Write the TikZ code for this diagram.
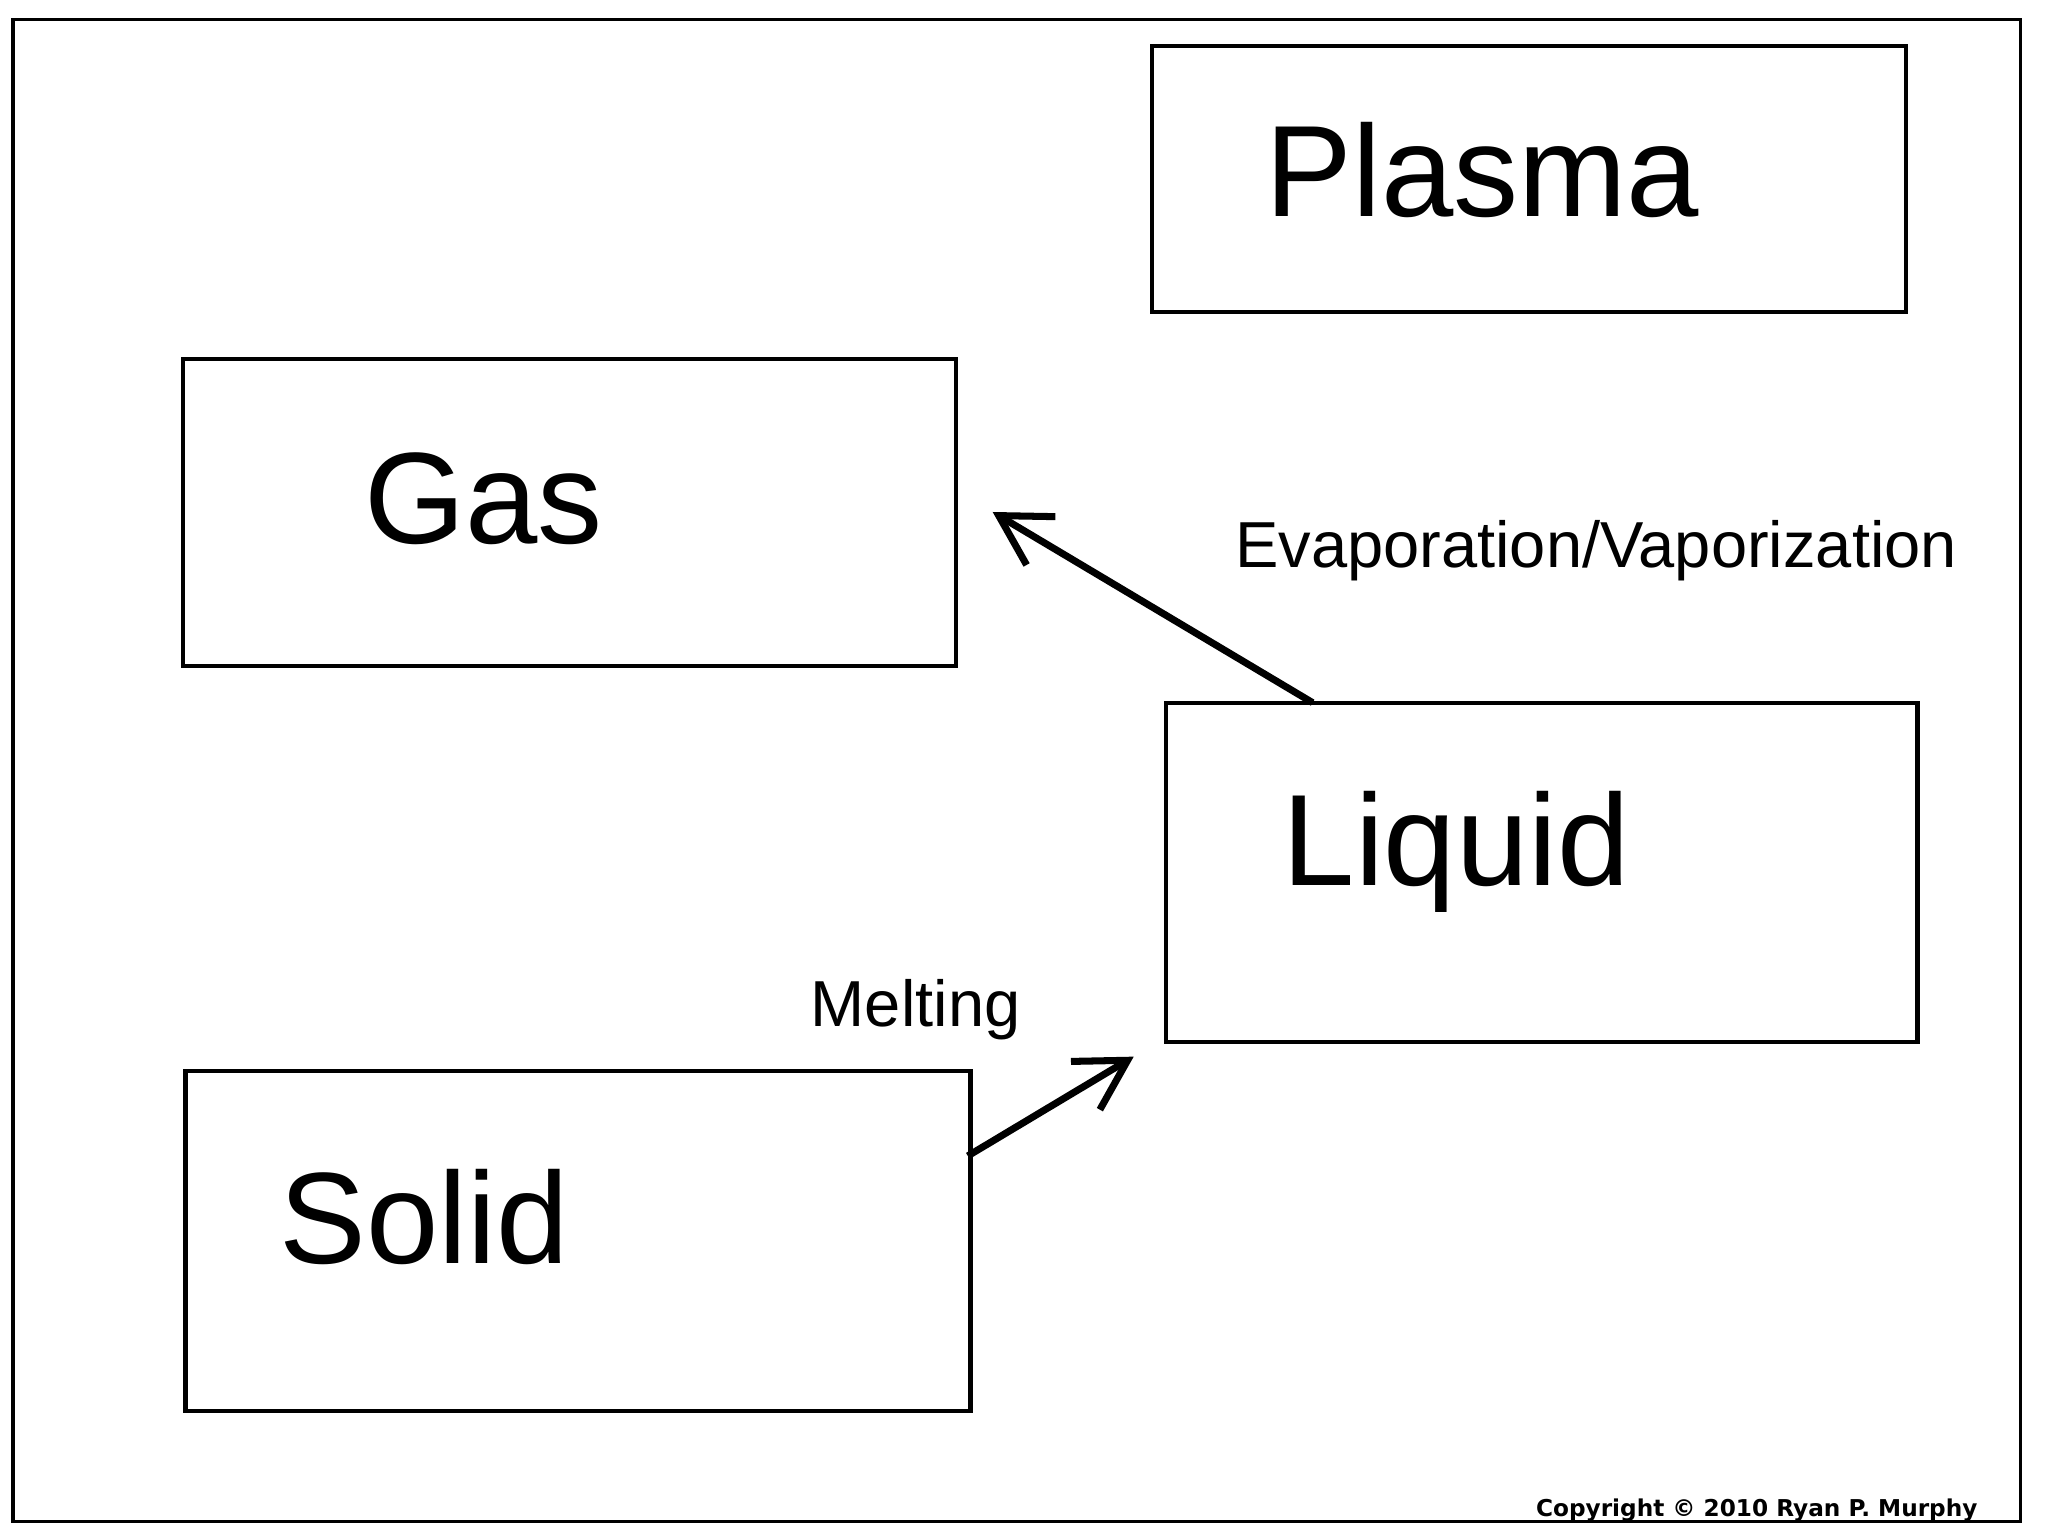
\documentclass[tikz,border=0pt]{standalone}
\usepackage{fontspec}
\setmainfont{Liberation Sans}
\newfontfamily\cpy{DejaVu Sans}
\usetikzlibrary{arrows.meta}
\begin{document}
\begin{tikzpicture}[x=0.013061cm,y=-0.013061cm,
  box/.style={draw,line width=1.2pt},
  big/.style={font=\fontsize{37}{37}\selectfont},
  lab/.style={font=\fontsize{18.5}{18.5}\selectfont},
  arr/.style={line width=2pt,-{Straight Barb[length=14pt,width=16pt,line width=2pt]}}]
\useasboundingbox (0,0) rectangle (1568,1176);
\draw[line width=1pt] (10,15) rectangle (1547,1165);
\draw[box] (882,35) rectangle (1459,239);
\draw[box] (140,275) rectangle (732,510);
\draw[box] (893,538) rectangle (1468,798);
\draw[box] (142,820) rectangle (743,1080);
\node[big] (plasma) at (1135,130) {Plasma};
\node[big] (gas) at (370,382) {Gas};
\node[big] (liquid) at (1115,652) {Liquid};
\node[big] (solid) at (325,932) {Solid};
\node[lab] (evap) at (1222,422) {Evaporation/Vaporization};
\node[lab] (melt) at (701,773) {Melting};
\node[font=\cpy\bfseries\fontsize{6.6}{6.6}\selectfont] (copy) at (1345,1156) {Copyright © 2010 Ryan P. Murphy};
\coordinate (ls) at (1005,538);
\coordinate (ge) at (760,392);
\coordinate (ss) at (741,885);
\coordinate (le) at (868,809);
\draw[arr] (ls) -- (ge);
\draw[arr] (ss) -- (le);
\end{tikzpicture}
\end{document}
